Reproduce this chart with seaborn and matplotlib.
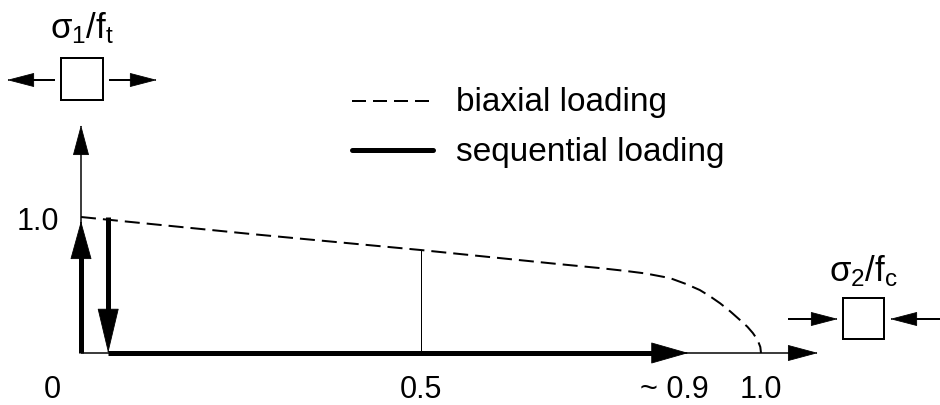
import numpy as np
import matplotlib
matplotlib.use("Agg")
import matplotlib.pyplot as plt
import seaborn as sns
from matplotlib.patches import Rectangle

# ---------------- data ----------------
# biaxial failure envelope (sigma2/fc, sigma1/ft)
biax_x = [0.0, 0.25, 0.5, 0.7, 0.76, 0.8, 0.83, 0.866, 0.89, 0.91, 0.925, 0.94,
          0.955, 0.969, 0.98, 0.988, 0.995, 0.999, 1.0]
biax_y = [1.0, 0.875, 0.757, 0.655, 0.626, 0.604, 0.585, 0.551, 0.507, 0.463,
          0.417, 0.365, 0.305, 0.243, 0.193, 0.147, 0.096, 0.044, 0.0]
# sequential loading path segments (start -> tip)
seq_up = [(0.0, 0.0), (0.0, 0.97)]
seq_down = [(0.04, 1.0), (0.04, 0.0)]
seq_right = [(0.04, 0.0), (0.893, 0.0)]
# marker line at 0.5
mark_x = 0.5
# tick labels
xtick_pos = [-0.043, 0.5, 0.872, 1.0]
xtick_lab = ["0", "0.5", "~ 0.9", "1.0"]
ytick_pos = [1.0]
ytick_lab = ["1.0"]
legend_labels = ["biaxial loading", "sequential loading"]
ylabel = r"$\sigma_1/f_t$"
xlabel = r"$\sigma_2/f_c$"

# ---------------- style ----------------
sns.set_style("white")
plt.rcParams["font.family"] = ["Liberation Sans", "DejaVu Sans"]
plt.rcParams["text.color"] = "black"
plt.rcParams["mathtext.fontset"] = "custom"
plt.rcParams["mathtext.rm"] = "Liberation Sans"
plt.rcParams["mathtext.it"] = "Liberation Sans"
plt.rcParams["mathtext.bf"] = "Liberation Sans:bold"

W, H = 940, 405
fig = plt.figure(figsize=(W / 100, H / 100), dpi=100)
ax = fig.add_axes([0, 0, 1, 1])
ax.set_axis_off()

# pixel (from top-left) <-> data mapping
X0, SX, Y0, SY = 81.0, 680.0, 353.0, 136.0
def dx(px): return (px - X0) / SX
def dy(py): return (Y0 - py) / SY
ax.set_xlim(dx(0), dx(W))
ax.set_ylim(dy(H), dy(0))

PT = 0.72  # points per pixel at 100 dpi


def head(tip, direction, length_px, width_px, lw=0.6):
    """Filled arrow head with tip at 'tip' pointing along direction."""
    ux, uy = direction
    back = (tip[0] - ux * 2.0 / SX, tip[1] - uy * 2.0 / SY)
    ax.annotate("", xy=tip, xytext=back,
                arrowprops=dict(arrowstyle=f"-|>,head_length={length_px*PT},"
                                           f"head_width={width_px/2*PT}",
                                mutation_scale=1, lw=lw, color="k",
                                shrinkA=0, shrinkB=0))


def arrow(start, tip, lw_px, hl_px, hw_px, head_lw=0.6):
    sx, sy = start
    tx, ty = tip
    vx, vy = (tx - sx) * SX, (ty - sy) * SY
    n = np.hypot(vx, vy)
    ux, uy = vx / n, vy / n
    base = (tx - ux * (hl_px - 2) / SX, ty - uy * (hl_px - 2) / SY)
    ax.plot([sx, base[0]], [sy, base[1]], color="k", lw=lw_px * PT,
            solid_capstyle="butt")
    head(tip, (ux, uy), hl_px, hw_px, head_lw)


# axes (thin)
arrow((0, 0), (dx(818), 0), 1.5, 28, 15)
arrow((0, 0), (0, dy(125)), 1.5, 28, 15)

# biaxial envelope (dashed)
sns.lineplot(x=biax_x, y=biax_y, ax=ax, color="k", lw=2 * PT,
             sort=False, estimator=None)
ax.lines[-1].set_dashes([7.5, 3.5])
ax.lines[-1].set_dash_capstyle("butt")

# vertical thin line at 0.5 up to envelope
y_at = biax_y[biax_x.index(mark_x)]
ax.plot([mark_x, mark_x], [0, y_at], color="k", lw=1.0 * PT)

# sequential loading (thick arrows)
arrow(seq_up[0], seq_up[1], 5, 36, 20)
arrow(seq_down[0], seq_down[1], 5, 42, 20)
arrow(seq_right[0], seq_right[1], 5, 35, 20)

# tick labels
for p, lab in zip(xtick_pos, xtick_lab):
    ax.text(p if lab != "0" else dx(52), dy(398), lab, ha="center",
            va="baseline", fontsize=22, color="black")
for p, lab in zip(ytick_pos, ytick_lab):
    ax.text(dx(38), dy(230), lab, ha="center", va="baseline", fontsize=22,
            color="black")

# legend (manual)
ax.plot([dx(352), dx(433)], [dy(101), dy(101)], color="k", lw=2 * PT,
        dashes=[7, 3.5], dash_capstyle="butt")
ax.plot([dx(352), dx(433)], [dy(150), dy(150)], color="k", lw=5 * PT,
        solid_capstyle="round")
ax.text(dx(456), dy(111.5), legend_labels[0], ha="left", va="baseline",
        fontsize=24, color="black")
ax.text(dx(456), dy(160.5), legend_labels[1], ha="left", va="baseline",
        fontsize=24, color="black")

# stress element for sigma1 (tension)
ax.add_patch(Rectangle((dx(61), dy(100)), dx(103) - dx(61), dy(58) - dy(100),
                       fill=False, lw=2 * PT, ec="k"))
arrow((dx(55), dy(80)), (dx(7), dy(80)), 2, 25, 13)
arrow((dx(109), dy(80)), (dx(157), dy(80)), 2, 25, 13)
ax.text(dx(82), dy(38), ylabel, ha="center", va="baseline", fontsize=25,
        color="black")

# stress element for sigma2 (compression)
ax.add_patch(Rectangle((dx(843), dy(339)), dx(884) - dx(843), dy(298) - dy(339),
                       fill=False, lw=2 * PT, ec="k"))
arrow((dx(788), dy(319)), (dx(838), dy(319)), 2, 25, 13)
arrow((dx(945), dy(319)), (dx(890), dy(319)), 2, 25, 13)
ax.text(dx(863), dy(281), xlabel, ha="center", va="baseline", fontsize=25,
        color="black")

fig.savefig("out.png", dpi=100)
